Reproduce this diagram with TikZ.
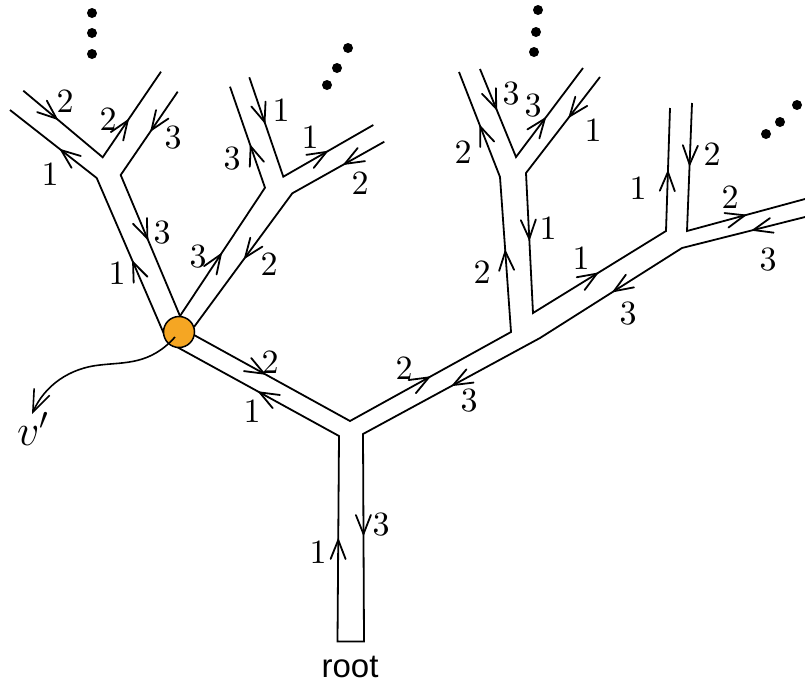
\RequirePackage{fix-cm}
\documentclass[tikz,border=0pt]{standalone}
\usepackage{fontspec}
\newfontfamily\rootfont{Liberation Sans}
\newfontfamily\numfont{lmroman10-regular.otf}
\usetikzlibrary{decorations.markings,arrows.meta}

\definecolor{vertexorange}{HTML}{F5A623}

\tikzset{
  tube/.style={line width=1.8pt, line join=miter},
  chev/.style={postaction={decorate, decoration={markings,
      mark=at position #1 with {\draw[line width=1.8pt, line cap=round, line join=miter]
        (-19pt,7.5pt) -- (0pt,0pt) -- (-19pt,-7.5pt);}}}},
  lbl/.style={font=\numfont\fontsize{34}{36}\selectfont, inner sep=0pt},
  dot/.style={circle, fill=black, minimum size=10pt, inner sep=0pt},
}

\begin{document}
\begin{tikzpicture}[x=1pt, y=-1pt]
\useasboundingbox (0,0) rectangle (805,686);

% corners of the tube outline
\coordinate (TL) at (339,436);   \coordinate (TR) at (363,434);
\coordinate (T1) at (337.5,641.5); \coordinate (T2) at (364,641.5);
\coordinate (J)  at (350,421);
\coordinate (E1) at (540,338);   \coordinate (E2) at (682,248);  \coordinate (E3) at (805,217);
\coordinate (C1) at (511,332);   \coordinate (C2) at (500,177);  \coordinate (C3) at (459,72);
\coordinate (C4) at (480,69);    \coordinate (C5) at (516,157);  \coordinate (C6) at (583,68);
\coordinate (C7) at (600,77);    \coordinate (C8) at (526,173);  \coordinate (C9) at (533,313);
\coordinate (D1) at (666,231);   \coordinate (D2) at (670,108);
\coordinate (D3) at (692,103);   \coordinate (D4) at (687,231);  \coordinate (D5) at (805,199);
\coordinate (A1) at (96.7,178);  \coordinate (A2) at (10,110);
\coordinate (A3) at (120.7,175); \coordinate (A4) at (177.7,91.7);
\coordinate (A5) at (23.3,90.7); \coordinate (A6) at (102.7,157.3); \coordinate (A7) at (161,71.7);
\coordinate (B1) at (265,187.7); \coordinate (B2) at (230,86.7);
\coordinate (B3) at (292.3,193.3); \coordinate (B4) at (384.3,141.7);
\coordinate (B5) at (249.3,77.3); \coordinate (B6) at (283.3,176.7); \coordinate (B7) at (373.3,125);
% where the outline meets the marked vertex
\coordinate (Nl) at (164,334);  \coordinate (Nt) at (180,316);
\coordinate (Nr) at (194,327);  \coordinate (Ne) at (194,335);
\coordinate (Nb) at (177,347);

% tube outline
\draw[tube] (Nb) -- (TL) -- (T1) -- (T2) -- (TR) -- (E1) -- (E2) -- (E3);
\draw[tube] (Ne) -- (J) -- (C1) -- (C2) -- (C3);
\draw[tube] (C4) -- (C5) -- (C6);
\draw[tube] (C7) -- (C8) -- (C9) -- (D1) -- (D2);
\draw[tube] (D3) -- (D4) -- (D5);
\draw[tube] (Nl) -- (A1) -- (A2);
\draw[tube] (A5) -- (A6) -- (A7);
\draw[tube] (A4) -- (A3) -- (Nt);
\draw[tube] (Nt) -- (B1) -- (B2);
\draw[tube] (B5) -- (B6) -- (B7);
\draw[tube] (B4) -- (B3) -- (Nr);

% direction marks along the outline
\path[chev=0.41] (A1) -- (A2);
\path[chev=0.42] (A5) -- (A6);
\path[chev=0.43] (A6) -- (A7);
\path[chev=0.46] (A4) -- (A3);
\path[chev=0.46] (Nl) -- (A1);
\path[chev=0.45] (A3) -- (Nt);
\path[chev=0.48] (Nt) -- (B1);
\path[chev=0.48] (B3) -- (Nr);
\path[chev=0.41] (B1) -- (B2);
\path[chev=0.45] (B5) -- (B6);
\path[chev=0.48] (B6) -- (B7);
\path[chev=0.43] (B4) -- (B3);
\path[chev=0.48] (C2) -- (C3);
\path[chev=0.45] (C4) -- (C5);
\path[chev=0.43] (C5) -- (C6);
\path[chev=0.41] (C7) -- (C8);
\path[chev=0.52] (C1) -- (C2);
\path[chev=0.47] (C8) -- (C9);
\path[chev=0.48] (C9) -- (D1);
\path[chev=0.48] (E2) -- (E1);
\path[chev=0.48] (D1) -- (D2);
\path[chev=0.48] (D3) -- (D4);
\path[chev=0.49] (D4) -- (D5);
\path[chev=0.42] (E3) -- (E2);
\path[chev=0.45] (Ne) -- (J);
\path[chev=0.49] (TL) -- (Nb);
\path[chev=0.49] (J) -- (C1);
\path[chev=0.49] (E1) -- (TR);
\path[chev=0.494] (T1) -- (TL);
\path[chev=0.482] (TR) -- (T2);

% edge labels
\node[lbl] (la) at (50,174) {1};
\node[lbl] (lb) at (65,101) {2};
\node[lbl] (lc) at (108,119) {2};
\node[lbl] (ld) at (173,138) {3};
\node[lbl] (le) at (117,273) {1};
\node[lbl] (lf) at (162,233) {3};
\node[lbl] (lg) at (198,257) {3};
\node[lbl] (lh) at (269,264) {2};
\node[lbl] (li) at (232,159) {3};
\node[lbl] (lj) at (281,110) {1};
\node[lbl] (lk) at (310,137) {1};
\node[lbl] (ll) at (360,183) {2};
\node[lbl] (lm) at (463,152) {2};
\node[lbl] (ln) at (511,94) {3};
\node[lbl] (lo) at (533,106) {3};
\node[lbl] (lp) at (593,130) {1};
\node[lbl] (lq) at (482,272) {2};
\node[lbl] (lr) at (548,228) {1};
\node[lbl] (ls) at (581,258) {1};
\node[lbl] (lt) at (628,314) {3};
\node[lbl] (lu) at (638,188) {1};
\node[lbl] (lv) at (712,154) {2};
\node[lbl] (lw) at (730,197) {2};
\node[lbl] (lx) at (768,260) {3};
\node[lbl] (ly) at (270,362) {2};
\node[lbl] (lz) at (252,411) {1};
\node[lbl] (laa) at (404,368) {2};
\node[lbl] (lbb) at (469,401) {3};
\node[lbl] (ltl) at (318,552) {1};
\node[lbl] (ltr) at (381,525) {3};

% continuation dots
\node[dot] (d1) at (92,13) {};  \node[dot] (d2) at (92,33) {};  \node[dot] (d3) at (92,54) {};
\node[dot] (d4) at (327,85) {}; \node[dot] (d5) at (337,68) {}; \node[dot] (d6) at (348,48) {};
\node[dot] (d7) at (538,10) {}; \node[dot] (d8) at (536,32) {}; \node[dot] (d9) at (534,52) {};
\node[dot] (d10) at (766,134) {}; \node[dot] (d11) at (780,122) {}; \node[dot] (d12) at (797,105) {};

% marked vertex and its pointer
\node[circle, draw=black, line width=1.5pt, fill=vertexorange, minimum size=31pt, inner sep=0pt] (N) at (179,332) {};
\node[inner sep=0pt, anchor=base west, font=\fontsize{44}{46}\selectfont] (vp) at (17,445) {$v'$};
\coordinate (vtip) at (32,414);
\draw[line width=1.6pt, -{Straight Barb[length=22pt, width=17pt, line width=1.6pt]}]
  (175,337) .. controls (150,365) and (125,362) .. (100,365)
  .. controls (70,368) and (45,385) .. (vtip);

\node[inner sep=0pt, font=\rootfont\fontsize{33}{36}\selectfont] (root) at (350,667) {root};
\end{tikzpicture}
\end{document}
